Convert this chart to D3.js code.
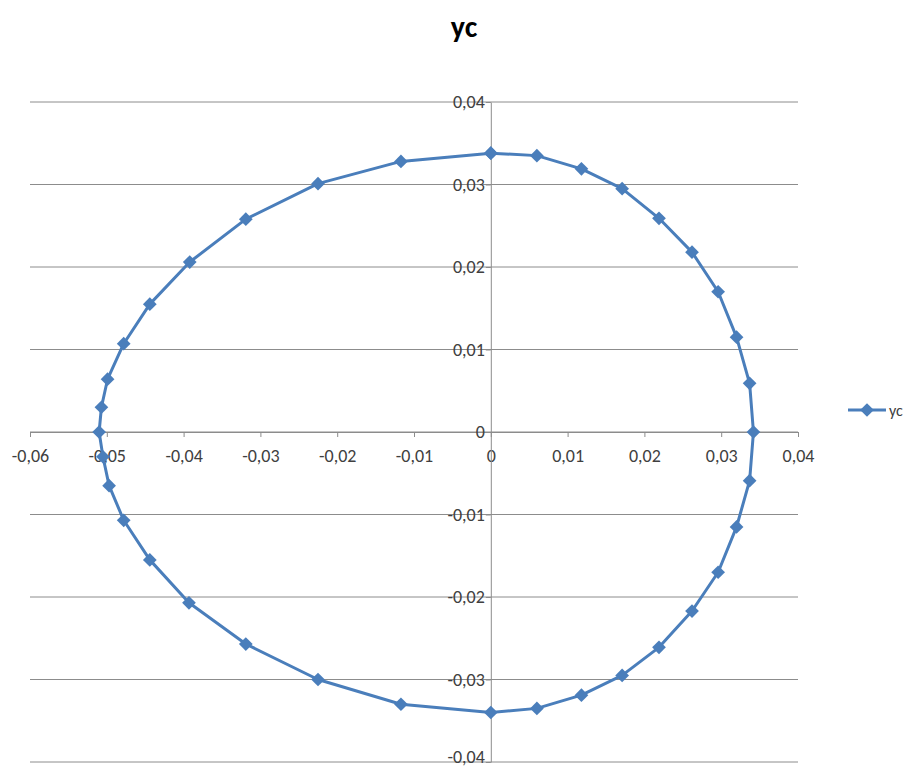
<!DOCTYPE html>
<html>
<head>
<meta charset="utf-8">
<script src="https://cdn.jsdelivr.net/npm/d3@7"></script>
<style>
  body { margin: 0; background: #fff; }
  .tick text { font-family: Calibri, Carlito, "Liberation Sans", Arial, sans-serif; }
</style>
</head>
<body>
<div id="chart"></div>
<script>
// values, in order round the curve
const xc = [0, 0.006, 0.0118, 0.0171, 0.0219, 0.0262, 0.0296, 0.032, 0.0337, 0.0342,
  0.0337, 0.032, 0.0296, 0.0262, 0.0219, 0.0171, 0.0118, 0.006, 0,
  -0.0117, -0.0225, -0.0319, -0.0393, -0.0444, -0.0478, -0.0497, -0.0505, -0.051,
  -0.0507, -0.0499, -0.0478, -0.0444, -0.0392, -0.0319, -0.0225, -0.0117, 0]
const yc = [0.0338, 0.0335, 0.0319, 0.0295, 0.0259, 0.0218, 0.017, 0.0115, 0.0059, 0,
  -0.0059, -0.0115, -0.017, -0.0217, -0.0261, -0.0295, -0.0319, -0.0335, -0.034,
  -0.033, -0.03, -0.0257, -0.0207, -0.0155, -0.0107, -0.0065, -0.003, 0,
  0.003, 0.0064, 0.0107, 0.0155, 0.0206, 0.0258, 0.0301, 0.0328, 0.0338]
const xTicks = [-0.06, -0.05, -0.04, -0.03, -0.02, -0.01, 0, 0.01, 0.02, 0.03, 0.04]
const yTicks = [-0.04, -0.03, -0.02, -0.01, 0, 0.01, 0.02, 0.03, 0.04]
const seriesName = "yc"

const data = xc.map(function(d, i){ return {x: d, y: yc[i]} })

const loc = d3.formatLocale({decimal: ",", thousands: ".", grouping: [3], currency: ["", ""], minus: "-"})
const fmt = function(v){ return Math.abs(v) < 1e-9 ? "0" : loc.format(".2f")(v) }

const svg = d3.select("#chart").append("svg")
    .attr("width", 911)
    .attr("height", 769)

const xScale = d3.scaleLinear().domain([-0.06, 0.04]).range([30, 798])
const yScale = d3.scaleLinear().domain([-0.04, 0.04]).range([762, 102])

svg.append("text")
    .attr("x", 464).attr("y", 37)
    .attr("text-anchor", "middle")
    .attr("font-family", "Calibri, Carlito, 'Liberation Sans', Arial, sans-serif")
    .attr("font-weight", "bold")
    .attr("font-size", 30)
    .attr("fill", "#000")
    .text(seriesName)

// horizontal gridlines
svg.append("g")
    .selectAll("line").data(yTicks).enter()
    .append("line")
    .attr("x1", xScale(-0.06)).attr("x2", xScale(0.04))
    .attr("y1", function(d){ return yScale(d) }).attr("y2", function(d){ return yScale(d) })
    .attr("stroke", "#8c8c8c")
    .attr("stroke-width", 1)

// x axis at y=0
const xAxis = svg.append("g")
    .attr("transform", "translate(0," + yScale(0) + ")")
    .call(d3.axisBottom(xScale).tickValues(xTicks).tickFormat(fmt).tickSize(5).tickSizeOuter(0))
xAxis.select(".domain").attr("stroke", "#8c8c8c")
xAxis.selectAll(".tick line").attr("stroke", "#8c8c8c")
xAxis.selectAll(".tick text").attr("font-size", 18).attr("fill", "#404040").attr("y", 17).attr("dy", "0.71em")

// y axis at x=0
const yAxis = svg.append("g")
    .attr("transform", "translate(" + xScale(0) + ",0)")
    .call(d3.axisLeft(yScale).tickValues(yTicks).tickFormat(fmt).tickSize(5).tickSizeOuter(0))
yAxis.select(".domain").attr("stroke", "#8c8c8c")
yAxis.selectAll(".tick line").attr("stroke", "#8c8c8c")
yAxis.selectAll(".tick text").attr("font-size", 18).attr("fill", "#404040").attr("x", -6)
// keep the last label inside the page
yAxis.selectAll(".tick text").filter(function(d){ return d === -0.04 }).attr("dy", "0.05em")

const line = d3.line()
    .x(function(d){ return xScale(d.x) })
    .y(function(d){ return yScale(d.y) })

svg.append("path")
    .datum(data)
    .attr("d", line)
    .attr("fill", "none")
    .attr("stroke", "#4a7ebb")
    .attr("stroke-width", 3)
    .attr("stroke-linejoin", "round")

const diamond = d3.symbol().type(d3.symbolDiamond2).size(120)
svg.append("g")
    .selectAll("path").data(data).enter()
    .append("path")
    .attr("d", diamond)
    .attr("transform", function(d){ return "translate(" + xScale(d.x) + "," + yScale(d.y) + ")" })
    .attr("fill", "#4a7ebb")

// legend
const legend = svg.append("g").attr("transform", "translate(848,410)")
legend.append("line")
    .attr("x1", 0).attr("x2", 38).attr("y1", 0).attr("y2", 0)
    .attr("stroke", "#4a7ebb").attr("stroke-width", 3)
legend.append("path")
    .attr("d", diamond)
    .attr("transform", "translate(19,0)")
    .attr("fill", "#4a7ebb")
legend.append("text")
    .attr("x", 41).attr("y", 6)
    .attr("font-family", "Calibri, Carlito, 'Liberation Sans', Arial, sans-serif")
    .attr("font-size", 16)
    .attr("fill", "#404040")
    .text(seriesName)
</script>
</body>
</html>
